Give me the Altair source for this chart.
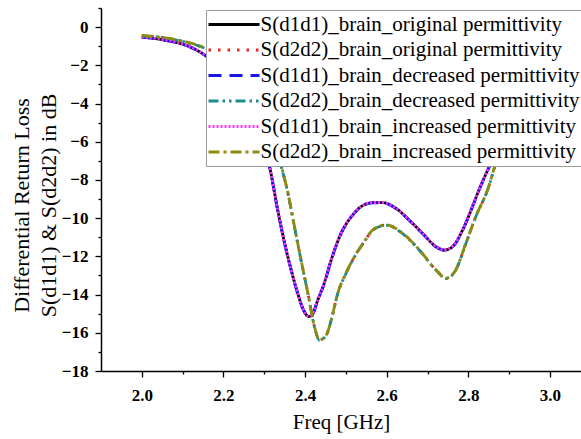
import altair as alt
import pandas as pd

series_names = [
    "S(d1d1)_brain_original permittivity",
    "S(d2d2)_brain_original permittivity",
    "S(d1d1)_brain_decreased permittivity",
    "S(d2d2)_brain_decreased permittivity",
    "S(d1d1)_brain_increased permittivity",
    "S(d2d2)_brain_increased permittivity",
]

freq_d1d1 = [2.00, 2.04, 2.08, 2.12, 2.16, 2.20, 2.24, 2.27, 2.29, 2.313, 2.333, 2.350,
             2.366, 2.382, 2.395, 2.409, 2.420, 2.431, 2.447, 2.464, 2.488, 2.513, 2.537,
             2.566, 2.590, 2.623, 2.655, 2.688, 2.721, 2.741, 2.761, 2.786, 2.810, 2.826,
             2.856, 2.90, 2.95, 3.00, 3.04, 3.08]
s_d1d1_orig = [-0.52, -0.62, -0.78, -1.05, -1.55, -2.30, -3.40, -4.60, -5.80, -7.31, -9.58, -11.32,
               -12.72, -13.94, -14.75, -15.15, -14.95, -14.29, -13.41, -12.19, -10.80, -9.93, -9.40,
               -9.19, -9.19, -9.49, -10.10, -10.80, -11.50, -11.67, -11.50, -10.62, -9.40, -8.53,
               -7.10, -5.40, -3.80, -2.70, -2.10, -1.80]
s_d1d1_dec = [-0.53, -0.63, -0.79, -1.06, -1.56, -2.31, -3.41, -4.61, -5.81, -7.32, -9.59, -11.33,
              -12.73, -13.95, -14.76, -15.16, -14.96, -14.30, -13.42, -12.20, -10.81, -9.94, -9.41,
              -9.20, -9.20, -9.50, -10.11, -10.81, -11.51, -11.68, -11.51, -10.63, -9.41, -8.54,
              -7.11, -5.41, -3.81, -2.71, -2.11, -1.81]
s_d1d1_inc = [-0.51, -0.61, -0.77, -1.04, -1.54, -2.29, -3.39, -4.59, -5.79, -7.30, -9.57, -11.31,
              -12.71, -13.93, -14.74, -15.14, -14.94, -14.28, -13.40, -12.18, -10.79, -9.92, -9.39,
              -9.18, -9.18, -9.48, -10.09, -10.79, -11.49, -11.66, -11.49, -10.61, -9.39, -8.52,
              -7.09, -5.39, -3.79, -2.69, -2.09, -1.79]

freq_d2d2 = [2.00, 2.04, 2.08, 2.12, 2.16, 2.20, 2.24, 2.28, 2.31, 2.342, 2.358, 2.374,
             2.390, 2.407, 2.423, 2.435, 2.452, 2.464, 2.480, 2.500, 2.521, 2.545, 2.566,
             2.598, 2.639, 2.680, 2.721, 2.745, 2.769, 2.794, 2.818, 2.847, 2.868, 2.90,
             2.95, 3.00, 3.04, 3.08]
s_d2d2_orig = [-0.45, -0.52, -0.65, -0.85, -1.15, -1.70, -2.60, -3.90, -5.30, -7.31, -8.70, -10.45,
               -12.19, -13.94, -15.68, -16.38, -16.12, -15.33, -13.94, -12.89, -12.02, -11.23, -10.62,
               -10.36, -10.80, -11.67, -12.72, -13.15, -12.72, -11.32, -9.93, -8.53, -7.10, -5.80,
               -4.20, -3.00, -2.30, -1.90]
s_d2d2_dec = [-0.46, -0.53, -0.66, -0.86, -1.16, -1.71, -2.61, -3.91, -5.31, -7.32, -8.71, -10.46,
              -12.20, -13.95, -15.69, -16.39, -16.13, -15.34, -13.95, -12.90, -12.03, -11.24, -10.63,
              -10.37, -10.81, -11.68, -12.73, -13.16, -12.73, -11.33, -9.94, -8.54, -7.11, -5.81,
              -4.21, -3.01, -2.31, -1.91]
s_d2d2_inc = [-0.44, -0.51, -0.64, -0.84, -1.14, -1.69, -2.59, -3.89, -5.29, -7.30, -8.69, -10.44,
              -12.18, -13.93, -15.67, -16.37, -16.11, -15.32, -13.93, -12.88, -12.01, -11.22, -10.61,
              -10.35, -10.79, -11.66, -12.71, -13.14, -12.71, -11.31, -9.92, -8.52, -7.09, -5.79,
              -4.19, -3.00, -2.29, -1.89]

series_colors = ["#000000", "#e8261f", "#1616e6", "#1f8c8c", "#ff33ff", "#8c8c12"]
series_dashes = [[1, 0], [2.5, 7], [13, 8], [10, 4, 2.5, 4, 2.5, 4], [2, 2], [11, 4, 3, 4]]

x_ticks = [round(2.0 + 0.1 * i, 1) for i in range(11)]
y_ticks = list(range(-18, 2))

rows = []
for name, fr, vals in [
    (series_names[0], freq_d1d1, s_d1d1_orig),
    (series_names[1], freq_d2d2, s_d2d2_orig),
    (series_names[2], freq_d1d1, s_d1d1_dec),
    (series_names[3], freq_d2d2, s_d2d2_dec),
    (series_names[4], freq_d1d1, s_d1d1_inc),
    (series_names[5], freq_d2d2, s_d2d2_inc),
]:
    for f, v in zip(fr, vals):
        rows.append({"series": name, "freq": f, "val": v})
df = pd.DataFrame(rows)

serif = "Liberation Serif"

chart = alt.Chart(df).mark_line(strokeWidth=2.8, interpolate="monotone", clip=True, strokeCap="butt").encode(
    x=alt.X("freq:Q", scale=alt.Scale(domain=[1.9, 3.076], nice=False, zero=False),
            axis=alt.Axis(values=x_ticks, title="Freq [GHz]", grid=False,
                          labelExpr="round(datum.value*10) % 2 == 0 ? format(datum.value, '.1f') : ''",
                          tickSize={"condition": {"test": "round(datum.value*10) % 2 == 0", "value": 6}, "value": 3},
                          labelFont=serif, labelFontWeight="bold", labelFontSize=17, labelPadding=10,
                          labelOverlap=False, labelFlush=False,
                          titleFont=serif, titleFontWeight="normal", titleFontSize=21, titlePadding=8,
                          domainColor="black", domainWidth=1.5, tickColor="black", tickWidth=1.3)),
    y=alt.Y("val:Q", scale=alt.Scale(domain=[-18, 1], nice=False, zero=False),
            axis=alt.Axis(values=y_ticks,
                          title=["Differential Return Loss", "S(d1d1) & S(d2d2) in dB"], grid=False,
                          labelExpr="datum.value % 2 == 0 ? format(datum.value, 'd') : ''",
                          tickSize={"condition": {"test": "datum.value % 2 == 0", "value": 6}, "value": 3},
                          labelFont=serif, labelFontWeight="bold", labelFontSize=17, labelPadding=7,
                          labelOverlap=False, labelFlush=False,
                          titleFont=serif, titleFontWeight="normal", titleFontSize=22, titleLineHeight=27,
                          titlePadding=1, titleY=197,
                          domainColor="black", domainWidth=1.5, tickColor="black", tickWidth=1.3)),
    color=alt.Color("series:N", scale=alt.Scale(domain=series_names, range=series_colors),
                    legend=alt.Legend(orient="none", legendX=105, legendY=2, title=None,
                                      labelFont=serif, labelFontSize=21, labelLimit=600,
                                      symbolType="M-5,0H5", symbolSize=104, symbolStrokeWidth=2.8,
                                      symbolOffset=13.5, rowPadding=3.5, padding=4, labelOffset=16,
                                      fillColor="white", strokeColor="#9a9a9a")),
    strokeDash=alt.StrokeDash("series:N", scale=alt.Scale(domain=series_names, range=series_dashes)),
).properties(
    width=480, height=363,
    padding={"left": 101, "top": 8, "right": 0, "bottom": 68},
    autosize=alt.AutoSizeParams(type="none"),
).configure_view(stroke=None)

chart.save("out.html", embed_options={"renderer": "svg", "actions": False})
